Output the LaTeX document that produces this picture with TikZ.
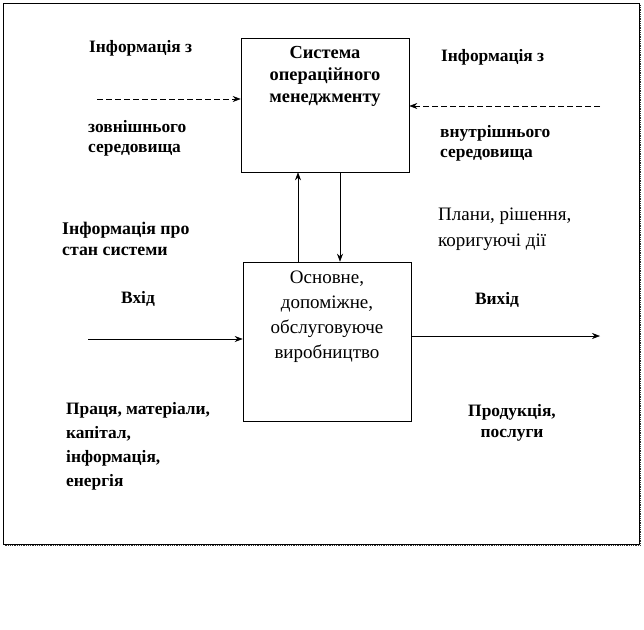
\documentclass[tikz,border=0pt]{standalone}
\usepackage{fontspec}
\setmainfont{Liberation Serif}
\usetikzlibrary{arrows.meta}
\begin{document}
\begin{tikzpicture}[x=1pt,y=-1pt,
  lbl/.style={inner sep=0pt,font=\bfseries\fontsize{17.4}{20}\selectfont},
  nrm/.style={inner sep=0pt,font=\fontsize{19}{25}\selectfont},
  boxx/.style={draw,line width=0.6pt,inner sep=0pt},
  arr/.style={line width=0.6pt,-{Stealth[length=8pt,width=6pt]}},
  darr/.style={arr,dash pattern=on 6pt off 3pt}]
\useasboundingbox (0,0) rectangle (644,629);
% frame with shadow
\draw[line width=1.6pt,black!80,dash pattern=on 1pt off 0.8pt] (640.5,5) -- (640.5,545.5) -- (5,545.5);
\draw[line width=0.6pt,fill=white] (3,3) rectangle (639,544);
% boxes
\node[boxx,minimum width=168pt,minimum height=134pt] (ts) at (325,105) {};
\node[boxx,minimum width=168pt,minimum height=159pt] (bs) at (327,341.5) {};
\node[lbl,align=center,font=\bfseries\fontsize{18.4}{22}\selectfont] (tst) at (325,76) {Система\\операційного\\менеджменту};
\node[nrm,align=center] (bst) at (327,317) {Основне,\\допоміжне,\\обслуговуюче\\виробництво};
% labels
\node[lbl,anchor=west] (l1) at (89,48) {Інформація з};
\node[lbl,anchor=west,align=left] (l2) at (88,138) {зовнішнього\\середовища};
\node[lbl,anchor=west] (r1) at (441,57) {Інформація з};
\node[lbl,anchor=west,align=left] (r2) at (440,143) {внутрішнього\\середовища};
\node[lbl,anchor=west,align=left,font=\bfseries\fontsize{17.8}{21}\selectfont] (ip) at (62,239) {Інформація про\\стан системи};
\node[nrm,anchor=west,align=left,font=\fontsize{19}{26}\selectfont] (pl) at (438,229) {Плани, рішення,\\коригуючі дії};
\node[lbl] (vh) at (138,299) {Вхід};
\node[lbl] (vy) at (497,300) {Вихід};
\node[lbl,anchor=west,align=left,font=\bfseries\fontsize{17.4}{24}\selectfont] (pr) at (66,446) {Праця, матеріали,\\капітал,\\інформація,\\енергія};
\node[lbl,align=center,font=\bfseries\fontsize{17.4}{21}\selectfont] (pd) at (512,423) {Продукція,\\послуги};
% connectors
\coordinate (a1) at (97,99);
\coordinate (a2) at (600,106);
\coordinate (inp) at (88,339);
\coordinate (outp) at (600,336);
\draw[darr] (a1) -- (a1 -| ts.west);
\draw[darr] (a2) -- (a2 -| ts.east);
\draw[arr] (bs.north -| 298,0) -- (ts.south -| 298,0);
\draw[arr] (ts.south -| 340,0) -- (bs.north -| 340,0);
\draw[arr] (inp) -- (inp -| bs.west);
\draw[arr] (outp -| bs.east) -- (outp);
\end{tikzpicture}
\end{document}
